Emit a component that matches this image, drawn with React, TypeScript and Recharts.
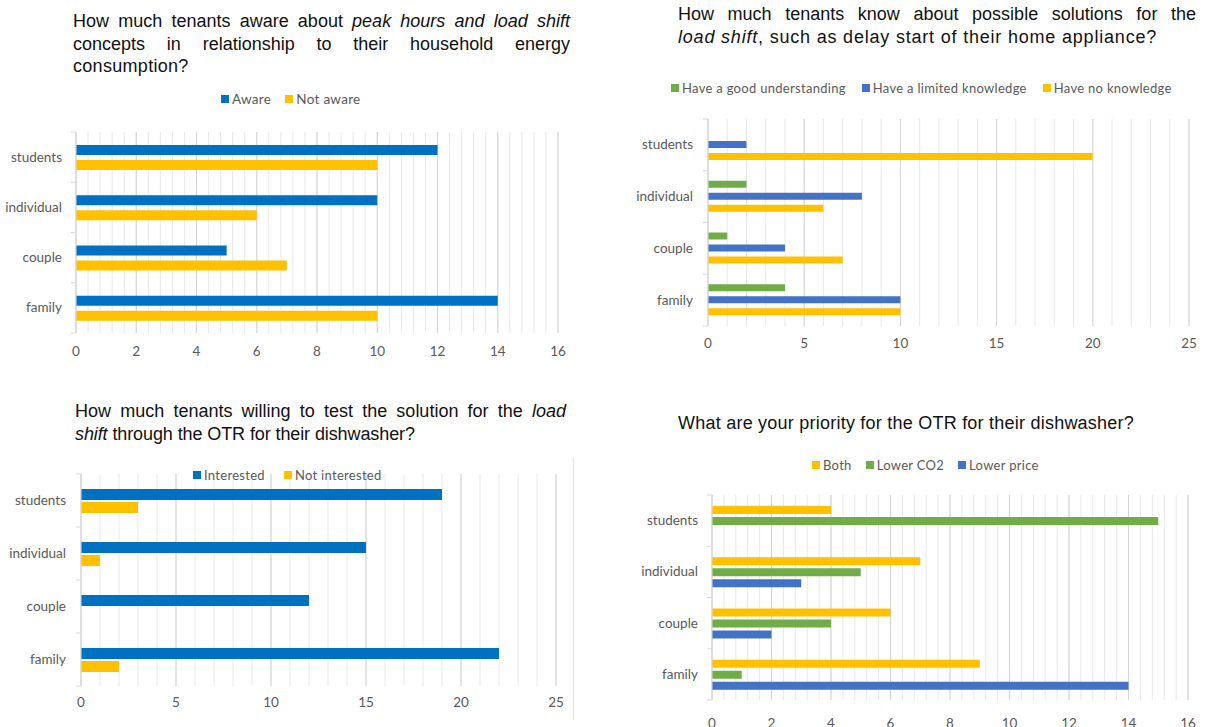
import React from "react";
import { Bar, BarChart, CartesianGrid, XAxis, YAxis } from "recharts";

// shared categories (top to bottom)
const groups = ["students", "individual", "couple", "family"];

// chart 1 - awareness of peak hours / load shift
const aware = [12, 10, 5, 14];
const notAware = [10, 6, 7, 10];

// chart 2 - knowledge of load shift solutions
const goodUnderstanding = [0, 2, 1, 4];
const limitedKnowledge = [2, 8, 4, 10];
const noKnowledge = [20, 6, 7, 10];

// chart 3 - willingness to test the OTR
const interested = [19, 15, 12, 22];
const notInterested = [3, 1, 0, 2];

// chart 4 - priority for the OTR
const both = [4, 7, 6, 9];
const lowerCo2 = [15, 5, 4, 1];
const lowerPrice = [0, 3, 2, 14];

const ticksBy2 = [0, 2, 4, 6, 8, 10, 12, 14, 16];
const ticksBy5 = [0, 5, 10, 15, 20, 25];

const BLUE_DARK = "#0070C0";
const BLUE = "#4472C4";
const YELLOW = "#FFC000";
const GREEN = "#70AD47";
const TEXT = "#595959";
const FONT = "Lato, 'Open Sans', sans-serif";
const TITLE_FONT = "'Liberation Sans', Arial, sans-serif";

type Series = { key: string; name: string; color: string; values: number[] };

// minor gridline positions (axis divisions, not data)
function steps(max: number, step: number) {
  const out: number[] = [];
  for (let i = 0; i * step <= max + 1e-9; i++) out.push(+(i * step).toFixed(2));
  return out;
}

function CatTick(props: any) {
  const { x, y, payload, index, band, gap } = props;
  const ax = x + gap;
  return (
    <g>
      <text x={x} y={y} dy={4.5} textAnchor="end" fill={TEXT} fontSize={13.5} fontFamily={FONT}>
        {payload.value}
      </text>
      {index === 0 && <line x1={ax - 5} x2={ax} y1={y - band / 2} y2={y - band / 2} stroke="#d9d9d9" />}
      <line x1={ax - 5} x2={ax} y1={y + band / 2} y2={y + band / 2} stroke="#d9d9d9" />
    </g>
  );
}

interface PanelProps {
  left: number;
  top: number;
  width: number;
  height: number;
  margin: { top: number; right: number; bottom: number; left: number };
  yWidth: number;
  tickGap: number;
  xMax: number;
  majorTicks: number[];
  minorStep: number;
  xTickMargin: number;
  barSize: number;
  barGap: number;
  series: Series[];
}

function Panel(p: PanelProps) {
  const data = groups.map((g, i) => {
    const row: Record<string, string | number> = { group: g };
    p.series.forEach((s) => (row[s.key] = s.values[i]));
    return row;
  });
  const plotH = p.height - p.margin.top - p.margin.bottom - 30;
  const band = plotH / groups.length;
  const minor = steps(p.xMax, p.minorStep);
  const minorGen = ({ xAxis, offset }: any) =>
    minor.map((v) =>
      xAxis && typeof xAxis.scale === "function" ? xAxis.scale(v) : offset.left + (v / p.xMax) * offset.width
    );
  return (
    <div style={{ position: "absolute", left: p.left, top: p.top }}>
      <BarChart
        width={p.width}
        height={p.height}
        data={data}
        layout="vertical"
        margin={p.margin}
        barSize={p.barSize}
        barGap={p.barGap}
      >
        <CartesianGrid horizontal={false} stroke="#e8e8e8" verticalCoordinatesGenerator={minorGen} />
        <CartesianGrid horizontal={false} stroke="#d4d4d4" />
        <XAxis
          type="number"
          domain={[0, p.xMax]}
          ticks={p.majorTicks}
          interval={0}
          height={30}
          axisLine={false}
          tickLine={false}
          tickSize={0}
          tickMargin={p.xTickMargin}
          tick={{ fill: TEXT, fontSize: 13.5, fontFamily: FONT }}
        />
        <YAxis
          type="category"
          dataKey="group"
          width={p.yWidth}
          axisLine={{ stroke: "#d9d9d9" }}
          tickLine={false}
          tickSize={0}
          tickMargin={p.tickGap}
          tick={(t: any) => <CatTick {...t} band={band} gap={p.tickGap} />}
        />
        {p.series.map((s) => (
          <Bar key={s.key} dataKey={s.key} name={s.name} fill={s.color} isAnimationActive={false} />
        ))}
      </BarChart>
    </div>
  );
}

function LegendRow({
  left,
  top,
  series,
  gap,
  size = 13.5,
}: {
  left: number;
  top: number;
  series: Series[];
  gap: number;
  size?: number;
}) {
  return (
    <div
      style={{
        position: "absolute",
        left,
        top,
        display: "flex",
        gap,
        fontFamily: FONT,
        fontSize: size,
        letterSpacing: 0.3,
        color: TEXT,
        lineHeight: "16px",
        whiteSpace: "nowrap",
      }}
    >
      {series.map((s) => (
        <div key={s.key} style={{ display: "flex", alignItems: "center" }}>
          <span style={{ width: 8, height: 8, background: s.color, marginRight: 3, display: "inline-block" }} />
          {s.name}
        </div>
      ))}
    </div>
  );
}

const titleStyle: React.CSSProperties = {
  position: "absolute",
  fontFamily: TITLE_FONT,
  fontSize: 18,
  lineHeight: "22.5px",
  color: "#111",
  whiteSpace: "nowrap",
};
const just: React.CSSProperties = { textAlign: "justify", textAlignLast: "justify", whiteSpace: "normal" };

const s1: Series[] = [
  { key: "aware", name: "Aware", color: BLUE_DARK, values: aware },
  { key: "notAware", name: "Not aware", color: YELLOW, values: notAware },
];
const s2: Series[] = [
  { key: "good", name: "Have a good understanding", color: GREEN, values: goodUnderstanding },
  { key: "limited", name: "Have a limited knowledge", color: BLUE, values: limitedKnowledge },
  { key: "none", name: "Have no knowledge", color: YELLOW, values: noKnowledge },
];
const s3: Series[] = [
  { key: "yes", name: "Interested", color: BLUE_DARK, values: interested },
  { key: "no", name: "Not interested", color: YELLOW, values: notInterested },
];
const s4: Series[] = [
  { key: "both", name: "Both", color: YELLOW, values: both },
  { key: "co2", name: "Lower CO2", color: GREEN, values: lowerCo2 },
  { key: "price", name: "Lower price", color: BLUE, values: lowerPrice },
];

export default function App() {
  return (
    <div style={{ position: "absolute", left: 0, top: 0, width: 1210, height: 727, background: "#fff", overflow: "hidden" }}>
      {/* chart 1 */}
      <div style={{ ...titleStyle, left: 73, top: 10, width: 497 }}>
        <div style={just}>
          How much tenants aware about <i>peak hours and load shift</i>
        </div>
        <div style={just}>concepts in relationship to their household energy</div>
        <div style={{ letterSpacing: 0.3 }}>consumption?</div>
      </div>
      <LegendRow left={221} top={91} series={s1} gap={14} />
      <Panel
        left={0}
        top={120}
        width={575}
        height={245}
        margin={{ top: 12, right: 17, bottom: 2, left: 6 }}
        yWidth={70}
        tickGap={14}
        xMax={16}
        majorTicks={ticksBy2}
        minorStep={0.4}
        xTickMargin={13}
        barSize={10}
        barGap={5}
        series={s1}
      />

      {/* chart 2 */}
      <div style={{ ...titleStyle, left: 678, top: 3, width: 518 }}>
        <div style={just}>How much tenants know about possible solutions for the</div>
        <div style={{ letterSpacing: 0.8 }}>
          <i>load shift</i>, such as delay start of their home appliance?
        </div>
      </div>
      <LegendRow left={671} top={80} series={s2} gap={16} size={13} />
      <Panel
        left={605}
        top={110}
        width={605}
        height={255}
        margin={{ top: 9, right: 21, bottom: 9, left: 13 }}
        yWidth={90}
        tickGap={15}
        xMax={25}
        majorTicks={ticksBy5}
        minorStep={1}
        xTickMargin={12}
        barSize={7}
        barGap={5}
        series={s2}
      />

      {/* chart 3 */}
      <div style={{ ...titleStyle, left: 75, top: 400, width: 491 }}>
        <div style={just}>
          How much tenants willing to test the solution for the <i>load</i>
        </div>
        <div style={{ letterSpacing: -0.1 }}>
          <i>shift</i> through the OTR for their dishwasher?
        </div>
      </div>
      <div style={{ position: "absolute", left: 573, top: 458, width: 1, height: 262, background: "#e4e4e4" }} />
      <Panel
        left={0}
        top={464}
        width={600}
        height={263}
        margin={{ top: 10, right: 44, bottom: 11, left: 11 }}
        yWidth={70}
        tickGap={15}
        xMax={25}
        majorTicks={ticksBy5}
        minorStep={1}
        xTickMargin={11}
        barSize={11}
        barGap={2}
        series={s3}
      />
      <LegendRow left={193} top={467} series={s3} gap={19} size={13} />

      {/* chart 4 */}
      <div style={{ ...titleStyle, left: 678, top: 412, letterSpacing: 0.23 }}>
        What are your priority for the OTR for their dishwasher?
      </div>
      <LegendRow left={812} top={457} series={s4} gap={14} size={13} />
      <Panel
        left={605}
        top={485}
        width={605}
        height={248}
        margin={{ top: 10, right: 22, bottom: 3, left: 17 }}
        yWidth={90}
        tickGap={14}
        xMax={16}
        majorTicks={ticksBy2}
        minorStep={0.4}
        xTickMargin={18}
        barSize={8}
        barGap={3}
        series={s4}
      />
    </div>
  );
}
